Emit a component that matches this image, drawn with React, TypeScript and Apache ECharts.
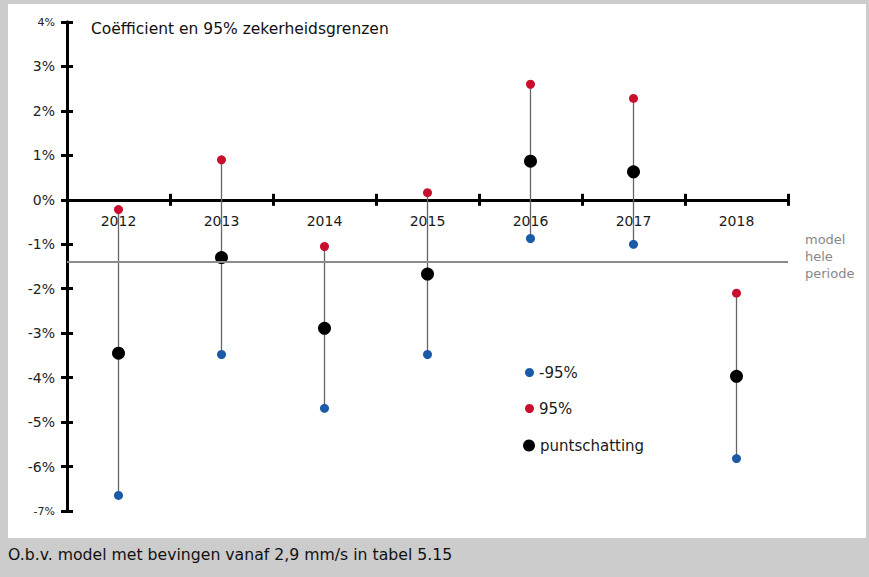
import React, { useEffect, useRef } from "react";
import * as echarts from "echarts";

const years = ["2012", "2013", "2014", "2015", "2016", "2017", "2018"];
const lower95 = [-6.65, -3.48, -4.69, -3.48, -0.87, -1.0, -5.82];
const upper95 = [-0.22, 0.9, -1.05, 0.16, 2.6, 2.28, -2.1];
const pointEst = [-3.45, -1.3, -2.89, -1.67, 0.87, 0.63, -3.97];
const modelWholePeriod = -1.4;
const yTicks = { min: -7, max: 4, interval: 1 };
const xLabelLevel = 0;

const FONT = "DejaVu Sans";
const GRID = { left: 67, right: 81, top: 22, bottom: 66 };

export default function App() {
  const ref = useRef<HTMLDivElement>(null);
  useEffect(() => {
    document.body.style.margin = "0";
    const chart = echarts.init(ref.current!, undefined, { renderer: "svg" });
    const yLabel = (v: number) =>
      v === yTicks.max || v === yTicks.min ? `{s|${v}%}` : `${v}%`;
    const xAxisBase = {
      type: "category" as const,
      data: years,
      boundaryGap: true,
      splitLine: { show: false },
      axisLine: { show: true, onZero: true, lineStyle: { color: "#000", width: 3 } },
      axisTick: { show: true, length: 6, lineStyle: { color: "#000", width: 3 } },
      axisLabel: { show: false },
    };
    const yAxisBase = {
      type: "value" as const,
      min: yTicks.min,
      max: yTicks.max,
      interval: yTicks.interval,
      splitLine: { show: false },
    };
    chart.setOption({
      animation: false,
      backgroundColor: "#cccccc",
      textStyle: { fontFamily: FONT },
      grid: { ...GRID, containLabel: false, outerBoundsMode: "none" },
      title: {
        text: "Coëfficient en 95% zekerheidsgrenzen",
        left: 86,
        top: 16,
        textStyle: { fontFamily: FONT, fontSize: 15.5, fontWeight: "normal", color: "#111" },
      },
      xAxis: [
        { ...xAxisBase, position: "bottom" },
        { ...xAxisBase, position: "top" },
      ],
      yAxis: [
        {
          ...yAxisBase,
          position: "left",
          axisLine: { show: true, lineStyle: { color: "#000", width: 3 } },
          axisTick: { show: true, length: 6, lineStyle: { color: "#000", width: 3 } },
          axisLabel: {
            show: true,
            margin: 12,
            fontSize: 14,
            color: "#222",
            fontFamily: FONT,
            formatter: yLabel,
            rich: { s: { fontSize: 11, color: "#222", fontFamily: FONT } },
          },
        },
        {
          ...yAxisBase,
          position: "left",
          axisLine: { show: true, lineStyle: { color: "#000", width: 3 } },
          axisTick: { show: true, inside: true, length: 6, lineStyle: { color: "#000", width: 3 } },
          axisLabel: { show: true, color: "transparent", formatter: () => "" },
        },
      ],
      legend: [
        {
          orient: "vertical",
          left: 520,
          top: 360,
          itemWidth: 9,
          itemHeight: 9,
          itemGap: 21,
          textStyle: { fontFamily: FONT, fontSize: 15, color: "#1a1a1a" },
          data: [
            { name: "-95%", icon: "circle" },
            { name: "95%", icon: "circle" },
          ],
        },
        {
          orient: "vertical",
          left: 518,
          top: 433,
          itemWidth: 12,
          itemHeight: 12,
          textStyle: { fontFamily: FONT, fontSize: 15, color: "#1a1a1a" },
          data: [{ name: "puntschatting", icon: "circle" }],
        },
      ],
      graphic: {
        elements: [
          {
            type: "rect",
            z: -10,
            silent: true,
            shape: { x: 8, y: 4, width: 858, height: 534 },
            style: { fill: "#ffffff" },
          },
          {
            type: "text",
            x: 805,
            y: 231,
            silent: true,
            style: {
              text: "model\nhele\nperiode",
              fill: "#888888",
              font: `13px "${FONT}"`,
              lineHeight: 17,
            },
          },
          {
            type: "text",
            x: 8,
            y: 546,
            silent: true,
            style: {
              text: "O.b.v. model met bevingen vanaf 2,9 mm/s in tabel 5.15",
              fill: "#111111",
              font: `15.7px "${FONT}"`,
            },
          },
        ],
      },
      series: [
        {
          type: "custom",
          name: "interval",
          xAxisIndex: 0,
          yAxisIndex: 0,
          silent: true,
          encode: { x: 0, y: [1, 2] },
          data: years.map((_, i) => [i, lower95[i], upper95[i]]),
          renderItem: (_params: any, api: any) => {
            const x = api.value(0);
            const lo = api.coord([x, api.value(1)]);
            const hi = api.coord([x, api.value(2)]);
            return {
              type: "line",
              shape: { x1: lo[0], y1: lo[1], x2: hi[0], y2: hi[1] },
              style: { stroke: "#666666", lineWidth: 1.3 },
            };
          },
          markLine: {
            silent: true,
            symbol: "none",
            label: { show: false },
            lineStyle: { color: "#8c8c8c", width: 2, type: "solid" },
            data: [{ yAxis: modelWholePeriod }],
          },
        },
        {
          type: "scatter",
          name: "yearLabels",
          xAxisIndex: 1,
          yAxisIndex: 1,
          silent: true,
          symbol: "circle",
          symbolSize: 1,
          itemStyle: { color: "rgba(0,0,0,0)", opacity: 1 },
          label: {
            show: true,
            position: "bottom",
            distance: 14,
            fontFamily: FONT,
            fontSize: 14,
            color: "#1a1a1a",
            formatter: (p: any) => p.name,
          },
          data: years.map((y) => ({ name: y, value: [y, xLabelLevel] })),
        },
        {
          type: "scatter",
          name: "-95%",
          symbol: "circle",
          symbolSize: 9,
          itemStyle: { color: "#1a5aa6", opacity: 1 },
          data: lower95,
        },
        {
          type: "scatter",
          name: "95%",
          symbol: "circle",
          symbolSize: 9,
          itemStyle: { color: "#c8102e", opacity: 1 },
          data: upper95,
        },
        {
          type: "scatter",
          name: "puntschatting",
          symbol: "circle",
          symbolSize: 13,
          itemStyle: { color: "#000000", opacity: 1 },
          data: pointEst,
        },
      ],
    });
    return () => chart.dispose();
  }, []);
  return <div ref={ref} style={{ width: 869, height: 577 }} />;
}
